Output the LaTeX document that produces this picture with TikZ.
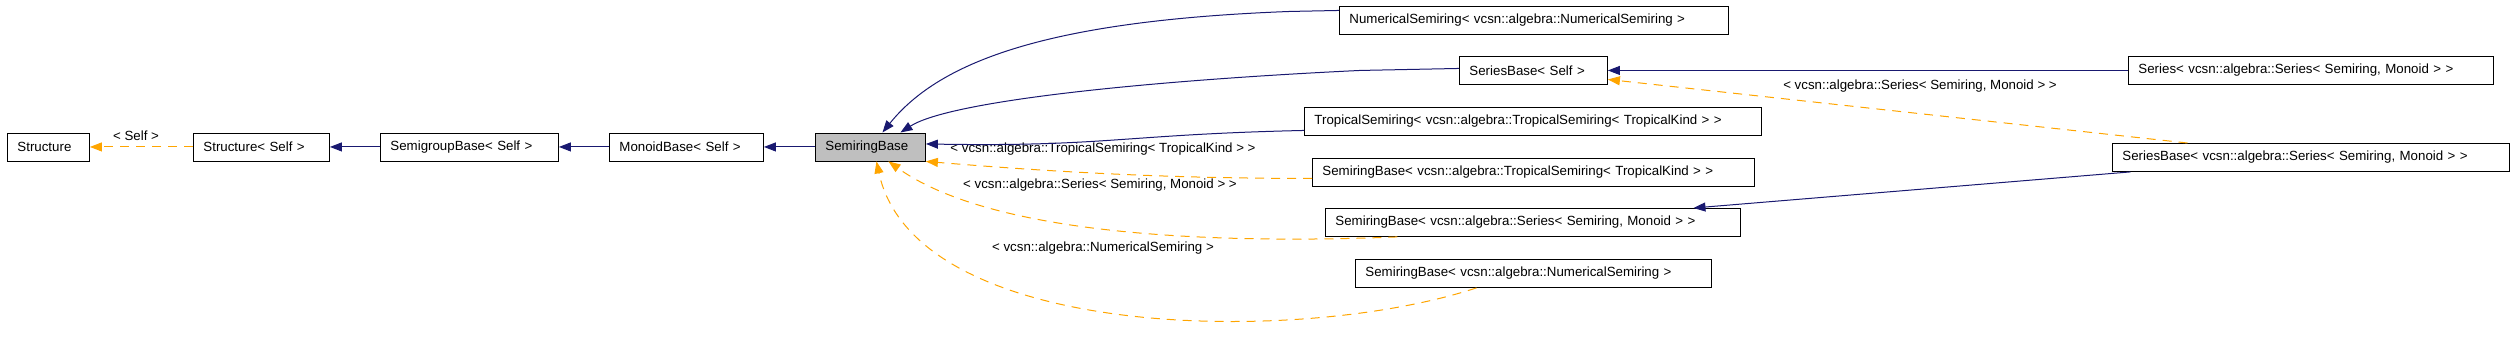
\documentclass[tikz,border=0pt]{standalone}
\usepackage{fontspec}
\newfontfamily\dox{Liberation Sans}
\usetikzlibrary{arrows.meta}
\definecolor{inhnavy}{RGB}{25,25,112}
\definecolor{tplorange}{RGB}{255,165,0}
\definecolor{focusgray}{RGB}{191,191,191}
\begin{document}
\begin{tikzpicture}[x=1pt,y=1pt,
 box/.style={draw=black, line width=0.9pt, minimum height=28pt, inner xsep=10pt, inner ysep=0pt, align=left, anchor=north west, font=\dox\fontsize{13.3pt}{15pt}\selectfont},
 lbl/.style={font=\dox\fontsize{13.3pt}{15pt}\selectfont, inner sep=0pt},
 inh/.style={draw=inhnavy, line width=1pt, -{Triangle[length=12pt,width=9pt]}},
 tpl/.style={draw=tplorange, line width=1pt, dash pattern=on 9pt off 7pt, -{Triangle[length=12pt,width=9pt]}}]
\useasboundingbox (0,0) rectangle (2515,-359);

\node[box, text width=62pt] (structure) at (7,-132.5) {Structure};
\node[box, text width=116pt] (structSelf) at (193,-132.5) {Structure< Self >};
\node[box, text width=158pt] (semigroup) at (380,-132.5) {SemigroupBase< Self >};
\node[box, text width=134pt] (monoid) at (609,-132.5) {MonoidBase< Self >};
\node[box, text width=90pt, fill=focusgray] (semiring) at (815,-132.5) {SemiringBase};
\node[box, text width=369pt] (numerical) at (1339,-6) {NumericalSemiring< vcsn::algebra::NumericalSemiring >};
\node[box, text width=128pt] (seriesBaseSelf) at (1459,-56) {SeriesBase< Self >};
\node[box, text width=437pt] (tropical) at (1304,-107) {TropicalSemiring< vcsn::algebra::TropicalSemiring< TropicalKind > >};
\node[box, text width=422pt] (semiringTrop) at (1312,-158) {SemiringBase< vcsn::algebra::TropicalSemiring< TropicalKind > >};
\node[box, text width=395pt] (semiringSeries) at (1325,-208) {SemiringBase< vcsn::algebra::Series< Semiring, Monoid > >};
\node[box, text width=336pt] (semiringNum) at (1355,-259) {SemiringBase< vcsn::algebra::NumericalSemiring >};
\node[box, text width=345pt] (series) at (2128,-56) {Series< vcsn::algebra::Series< Semiring, Monoid > >};
\node[box, text width=377pt] (seriesBaseSeries) at (2112,-143) {SeriesBase< vcsn::algebra::Series< Semiring, Monoid > >};

\node[lbl] (lSelf) at (136,-136) {< Self >};
\node[lbl] (lTrop) at (1103,-149) {< vcsn::algebra::TropicalSemiring< TropicalKind > >};
\node[lbl] (lSer) at (1100,-185) {< vcsn::algebra::Series< Semiring, Monoid > >};
\node[lbl] (lNum) at (1103,-248) {< vcsn::algebra::NumericalSemiring >};
\node[lbl] (lSer2) at (1920,-86) {< vcsn::algebra::Series< Semiring, Monoid > >};

\draw[tpl] (structSelf.west) -- (structure.east);
\draw[inh] (semigroup.west) -- (structSelf.east);
\draw[inh] (monoid.west) -- (semigroup.east);
\draw[inh] (semiring.west) -- (monoid.east);

\draw[inh] ([yshift=10pt]numerical.west) -- ++(-49pt,-1pt)
  .. controls +(-240pt,-9pt) and +(58pt,72pt) .. ([xshift=12pt]semiring.north);
\draw[inh] ([yshift=2pt]seriesBaseSelf.west) -- ++(-99pt,-2pt)
  .. controls +(-210pt,-10pt) and +(50pt,32pt) .. ([xshift=30pt]semiring.north);
\draw[inh] ([yshift=-9pt]tropical.west) .. controls +(-180pt,-4pt) and +(180pt,-3pt) .. ([yshift=3pt]semiring.east);
\draw[tpl] ([yshift=-6pt]semiringTrop.west) .. controls +(-150pt,0pt) and +(120pt,-10pt) .. (semiring.south east);
\draw[tpl] ([xshift=-135.5pt]semiringSeries.south) .. controls +(-147pt,-6pt) and +(112pt,-80pt) .. ([xshift=18pt]semiring.south);
\draw[tpl] ([xshift=-57pt]semiringNum.south) .. controls +(-176pt,-58pt) and +(39pt,-180pt) .. ([xshift=6pt]semiring.south);

\draw[inh] (series.west) -- (seriesBaseSelf.east);
\draw[tpl] ([xshift=-123.5pt]seriesBaseSeries.north) -- ([yshift=-9pt]seriesBaseSelf.east);
\draw[inh] ([xshift=-180.5pt]seriesBaseSeries.south) -- ([xshift=160.5pt]semiringSeries.north);
\end{tikzpicture}
\end{document}
